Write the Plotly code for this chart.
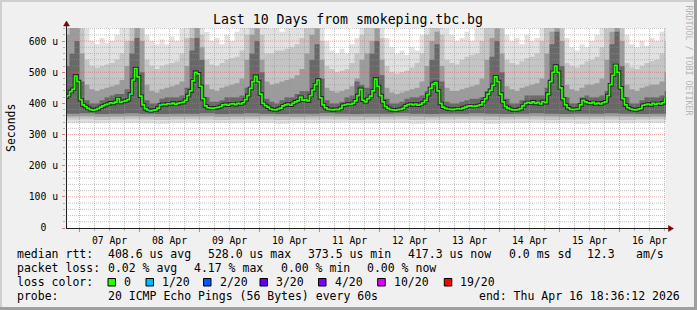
import plotly.graph_objects as go
import pandas as pd

# ---------------- data ----------------
T_START = "2026-04-06 18:36:12"
T_END = "2026-04-16 18:36:12"

# median rtt in microseconds, hourly from 2026-04-06 18:00
median_us = [
    420, 425, 438, 445, 488, 470,
    412, 395, 390, 384, 380, 378, 380, 383, 388, 392, 396, 398, 402, 400, 404, 415, 403, 406, 408, 412, 430, 475, 512, 485,
    423, 395, 383, 378, 376, 378, 379, 385, 395, 397, 396, 399, 398, 401, 397, 400, 402, 403, 410, 425, 440, 472, 500, 495,
    455, 415, 392, 386, 385, 384, 386, 387, 390, 395, 397, 394, 398, 399, 396, 400, 398, 402, 412, 425, 448, 470, 487, 470,
    430, 400, 393, 388, 382, 380, 379, 382, 385, 392, 395, 398, 394, 400, 405, 408, 420, 410, 412, 408, 425, 443, 460, 475,
    418, 395, 386, 381, 380, 379, 381, 380, 384, 394, 396, 398, 397, 400, 408, 425, 445, 410, 405, 415, 423, 440, 478, 455,
    425, 405, 390, 384, 380, 379, 378, 380, 381, 384, 392, 396, 398, 395, 398, 394, 397, 402, 410, 428, 448, 462, 467, 440,
    400, 388, 384, 382, 381, 380, 382, 383, 382, 385, 388, 391, 392, 390, 391, 393, 395, 405, 415, 430, 442, 458, 485, 470,
    430, 405, 390, 385, 381, 379, 379, 380, 383, 392, 400, 403, 401, 405, 400, 403, 398, 406, 402, 430, 470, 500, 520, 500,
    450, 415, 395, 386, 381, 380, 381, 382, 395, 410, 405, 402, 400, 403, 398, 401, 398, 402, 405, 425, 460, 490, 522, 500,
    450, 415, 395, 386, 382, 380, 379, 381, 383, 394, 396, 398, 395, 400, 397, 400, 398, 402, 418,
]

# smoke band upper edges (us), every 2 hours from 2026-04-06 18:00
smoke_top_light = [
    650, 650, 650,
    650, 640, 600, 590, 610, 595, 600, 620, 650, 650, 650, 650,
    650, 620, 600, 590, 605, 590, 615, 600, 640, 650, 650, 650,
    650, 630, 600, 610, 590, 620, 600, 630, 650, 650, 650, 650,
    650, 650, 640, 650, 630, 650, 640, 650, 650, 650, 650, 650,
    650, 600, 570, 560, 575, 560, 590, 610, 650, 650, 650, 650,
    650, 610, 580, 560, 570, 555, 580, 570, 620, 650, 650, 650,
    650, 640, 620, 600, 610, 630, 600, 640, 650, 650, 650, 650,
    650, 620, 600, 610, 590, 620, 600, 610, 650, 650, 650, 650,
    650, 610, 580, 570, 590, 580, 600, 620, 650, 650, 650, 650,
    650, 620, 590, 580, 600, 585, 610, 600, 630, 650, 650,
]
smoke_top_mid = [
    650, 650, 650,
    640, 540, 520, 515, 520, 525, 530, 540, 560, 600, 650, 650,
    640, 540, 520, 510, 520, 525, 530, 535, 560, 610, 650, 650,
    620, 540, 525, 520, 530, 540, 545, 550, 570, 620, 650, 650,
    620, 560, 560, 570, 570, 575, 580, 590, 610, 640, 650, 650,
    600, 520, 510, 500, 505, 510, 530, 560, 620, 650, 650, 650,
    610, 520, 500, 495, 500, 505, 515, 530, 560, 620, 650, 650,
    620, 540, 530, 525, 540, 550, 555, 560, 600, 650, 650, 650,
    640, 540, 530, 525, 535, 545, 550, 560, 600, 650, 650, 650,
    640, 530, 520, 515, 525, 535, 540, 550, 580, 640, 650, 650,
    640, 530, 515, 510, 520, 530, 535, 540, 560, 600, 640,
]
smoke_top_dark = [
    620, 650, 650,
    560, 460, 445, 440, 445, 450, 455, 460, 475, 520, 600, 650,
    600, 460, 440, 435, 445, 450, 455, 460, 470, 520, 610, 650,
    580, 460, 445, 440, 450, 455, 460, 465, 480, 540, 620, 640,
    540, 470, 460, 465, 470, 475, 480, 490, 510, 560, 620, 640,
    540, 450, 440, 435, 440, 445, 455, 480, 540, 560, 600, 640,
    540, 450, 435, 430, 435, 440, 445, 450, 470, 520, 600, 630,
    520, 450, 440, 440, 445, 450, 455, 460, 480, 540, 610, 640,
    560, 455, 445, 440, 450, 455, 460, 465, 480, 560, 630, 650,
    600, 460, 445, 440, 450, 460, 460, 465, 480, 540, 630, 650,
    600, 460, 445, 440, 450, 455, 460, 460, 470, 500, 560,
]
smoke_top_core = [
    520, 560, 600,
    470, 410, 400, 400, 410, 420, 425, 430, 430, 445, 560, 610,
    500, 410, 400, 400, 415, 420, 420, 420, 425, 450, 570, 610,
    540, 420, 405, 405, 410, 420, 420, 420, 425, 450, 560, 600,
    500, 415, 405, 400, 410, 420, 420, 430, 440, 440, 540, 590,
    480, 410, 400, 400, 405, 420, 425, 470, 460, 450, 560, 600,
    490, 415, 400, 400, 405, 415, 420, 420, 425, 440, 540, 590,
    470, 405, 400, 400, 405, 410, 415, 415, 420, 440, 550, 600,
    500, 415, 400, 400, 410, 425, 425, 425, 425, 450, 590, 630,
    520, 420, 400, 400, 420, 425, 420, 420, 425, 440, 590, 630,
    520, 420, 400, 400, 410, 420, 420, 420, 425, 440, 470,
]

# smoke band lower edges (us), every 6 hours from 2026-04-06 18:00
smoke_low_light = [
    336, 337, 336, 338, 337, 336, 335, 337, 338, 336, 337, 336, 338, 337,
    335, 337, 336, 337, 338, 336, 336, 337, 337, 335, 338, 336, 337, 337,
    335, 336, 337, 338, 336, 337, 335, 337, 337, 336, 338, 337, 336, 337,
]
smoke_low_mid = [
    348, 349, 347, 348, 349, 348, 347, 348, 349, 348, 347, 348, 349, 348,
    347, 348, 348, 349, 348, 347, 348, 348, 349, 347, 348, 348, 349, 348,
    347, 348, 349, 348, 347, 348, 348, 349, 348, 347, 348, 349, 348, 348,
]
smoke_low_dark = [
    358, 359, 357, 358, 359, 358, 357, 358, 358, 359, 357, 358, 358, 359,
    358, 357, 358, 359, 358, 358, 357, 358, 359, 358, 357, 358, 358, 359,
    358, 357, 358, 359, 358, 357, 358, 358, 359, 358, 357, 358, 358, 358,
]
smoke_low_core = [
    367, 368, 366, 367, 368, 367, 366, 367, 367, 368, 366, 367, 368, 367,
    366, 367, 367, 368, 367, 366, 367, 367, 368, 367, 366, 367, 367, 368,
    367, 366, 367, 368, 367, 366, 367, 367, 368, 367, 366, 367, 367, 367,
]

loss_times = ["2026-04-07 20:00", "2026-04-08 03:00", "2026-04-08 08:00"]
loss_count = ["1/20", "1/20", "1/20"]

y_tick_vals = [0, 100, 200, 300, 400, 500, 600]
y_tick_text = ["0\u00a0\u00a0", "100 u", "200 u", "300 u", "400 u", "500 u", "600 u"]

legend_rows = [
    [("median rtt:", 16), ("408.6 us avg", 107.3), ("528.0 us max", 207.3), ("373.5 us min", 307),
     ("417.3 us now", 407), ("0.0 ms sd", 507.5), ("12.3", 585.5), ("am/s", 635)],
    [("packet loss:", 16), ("0.02 % avg", 107.3), ("4.17 % max", 193.4), ("0.00 % min", 279.5),
     ("0.00 % now", 365.6)],
    [("loss color:", 16)],
    [("probe:", 16), ("20 ICMP Echo Pings (56 Bytes) every 60s", 107.3),
     ("end: Thu Apr 16 18:36:12 2026", 478.3)],
]
loss_labels = ["0", "1/20", "2/20", "3/20", "4/20", "10/20", "19/20"]
loss_colors = ["#26ff00", "#00b8ff", "#0059ff", "#5e00ff", "#7e00ff", "#dd00ff", "#ff0000"]
loss_box_x = [108, 146, 203.5, 260, 318.5, 377.7, 444.3]

# ---------------- layout constants ----------------
W, H = 697, 310
L, T, PW, PH = 66, 28, 600, 200
Y_MAX = 642
MONO = "DejaVu Sans Mono"


def ax(px):
    return (px - L) / PW


def ay(py):
    return (T + PH - py) / PH


t_hour = pd.date_range("2026-04-06 18:00", periods=len(median_us), freq="h")
t_2h = pd.date_range("2026-04-06 18:00", periods=len(smoke_top_light), freq="2h")
t_6h = pd.date_range("2026-04-06 18:00", periods=len(smoke_low_light), freq="6h")

fig = go.Figure()

bands = [
    (smoke_low_light, smoke_top_light, "#e1e1e1"),
    (smoke_low_mid, smoke_top_mid, "#c5c5c5"),
    (smoke_low_dark, smoke_top_dark, "#9c9c9c"),
    (smoke_low_core, smoke_top_core, "#686868"),
]
for lo, hi, col in bands:
    fig.add_trace(go.Scatter(x=t_6h, y=lo, mode="lines", line=dict(width=0, shape="hv"),
                             hoverinfo="skip", showlegend=False))
    fig.add_trace(go.Scatter(x=t_2h, y=hi, mode="lines", line=dict(width=0, shape="hv"),
                             fill="tonexty", fillcolor=col, hoverinfo="skip", showlegend=False))

# grid (drawn over the smoke as in rrdtool)
ts, te = pd.Timestamp(T_START), pd.Timestamp(T_END)
vt = pd.date_range("2026-04-07 00:00", "2026-04-16 18:00", freq="6h")


def vlines(times):
    xs, ys = [], []
    for t in times:
        xs += [t, t, None]
        ys += [0, Y_MAX, None]
    return xs, ys


def hlines(vals):
    xs, ys = [], []
    for v in vals:
        xs += [ts, te, None]
        ys += [v, v, None]
    return xs, ys


minor_h = [v for v in range(20, Y_MAX, 20) if v % 100]
major_h = [v for v in range(100, Y_MAX, 100)]
for (xs, ys), col in [
    (hlines(minor_h), "rgba(150,150,150,0.55)"),
    (vlines([t for t in vt if t.hour != 0]), "rgba(150,150,150,0.55)"),
    (hlines(major_h), "rgba(220,90,90,0.55)"),
    (vlines([t for t in vt if t.hour == 0]), "rgba(220,90,90,0.55)"),
]:
    fig.add_trace(go.Scatter(x=xs, y=ys, mode="lines", line=dict(color=col, width=1, dash="1px,1px"),
                             hoverinfo="skip", showlegend=False, connectgaps=False))

# median
fig.add_trace(go.Scatter(x=t_hour, y=median_us, mode="lines", line=dict(color="#1e1e1e", width=3.5, shape="hv"),
                         hoverinfo="skip", showlegend=False))
fig.add_trace(go.Scatter(x=t_hour, y=median_us, mode="lines", line=dict(color=loss_colors[0], width=1.7, shape="hv"),
                         hoverinfo="skip", showlegend=False))
for lt, lc in zip(loss_times, loss_count):
    i = t_hour.get_loc(pd.Timestamp(lt))
    fig.add_trace(go.Scatter(x=[t_hour[i], t_hour[i + 1]], y=[median_us[i], median_us[i]], mode="lines",
                             line=dict(color=loss_colors[loss_labels.index(lc)], width=1.7, shape="hv"),
                             hoverinfo="skip", showlegend=False))

shapes = []
# frame (3D border)
shapes += [
    dict(type="rect", xref="paper", yref="paper", x0=ax(0), x1=ax(W), y0=ay(0), y1=ay(2), fillcolor="#cfcfcf", line_width=0),
    dict(type="rect", xref="paper", yref="paper", x0=ax(0), x1=ax(2), y0=ay(0), y1=ay(H), fillcolor="#cfcfcf", line_width=0),
    dict(type="rect", xref="paper", yref="paper", x0=ax(0), x1=ax(W), y0=ay(H - 3), y1=ay(H), fillcolor="#9e9e9e", line_width=0),
    dict(type="rect", xref="paper", yref="paper", x0=ax(W - 3), x1=ax(W), y0=ay(0), y1=ay(H), fillcolor="#9e9e9e", line_width=0),
]
# axes with arrows
shapes += [
    dict(type="line", xref="paper", yref="paper", x0=ax(66.5), x1=ax(66.5), y0=ay(228.5), y1=ay(25), line=dict(color="#212121", width=1)),
    dict(type="line", xref="paper", yref="paper", x0=ax(66), x1=ax(670), y0=ay(228.5), y1=ay(228.5), line=dict(color="#212121", width=1)),
    dict(type="path", xref="paper", yref="paper",
         path=f"M {ax(63.5)} {ay(26)} L {ax(69.5)} {ay(26)} L {ax(66.5)} {ay(21)} Z",
         fillcolor="#800000", line=dict(color="#800000", width=0.5)),
    dict(type="path", xref="paper", yref="paper",
         path=f"M {ax(668.5)} {ay(225.5)} L {ax(668.5)} {ay(231.5)} L {ax(673.5)} {ay(228.5)} Z",
         fillcolor="#800000", line=dict(color="#800000", width=0.5)),
]
# loss color boxes
for bx, c in zip(loss_box_x, loss_colors):
    shapes.append(dict(type="rect", xref="paper", yref="paper", x0=ax(bx), x1=ax(bx + 7.5),
                       y0=ay(286), y1=ay(278.5), fillcolor=c, line=dict(color="#000000", width=1)))

ann = []
ann.append(dict(text="Last 10 Days from smokeping.tbc.bg", x=ax(348), y=ay(20), xref="paper", yref="paper",
                xanchor="center", yanchor="middle", showarrow=False, font=dict(family=MONO, size=13.2, color="#000")))
ann.append(dict(text="Seconds", x=ax(11), y=ay(128), xref="paper", yref="paper", textangle=-90,
                xanchor="center", yanchor="middle", showarrow=False, font=dict(family=MONO, size=11.5, color="#000")))
ann.append(dict(text="RRDTOOL / TOBI OETIKER", x=ax(688.5), y=ay(60), xref="paper", yref="paper", textangle=90,
                xanchor="center", yanchor="middle", showarrow=False, font=dict(family=MONO, size=8.3, color="#b5b5b5")))
row_y = [254, 268, 282.3, 296]
for ry, row in zip(row_y, legend_rows):
    for txt, px in row:
        ann.append(dict(text=txt.replace(" ", "\u00a0"), x=ax(px), y=ay(ry), xref="paper", yref="paper",
                        xanchor="left", yanchor="middle", showarrow=False, borderpad=0,
                        font=dict(family=MONO, size=11.5, color="#000")))
for bx, lbl in zip(loss_box_x, loss_labels):
    ann.append(dict(text=lbl, x=ax(bx + 15), y=ay(282.3), xref="paper", yref="paper",
                    xanchor="left", yanchor="middle", showarrow=False, borderpad=0,
                    font=dict(family=MONO, size=11.5, color="#000")))

fig.update_layout(
    width=W, height=H,
    margin=dict(l=L, r=W - L - PW, t=T, b=H - T - PH, pad=0),
    paper_bgcolor="#f0f0f0", plot_bgcolor="#ffffff",
    showlegend=False,
    shapes=shapes, annotations=ann,
    xaxis=dict(type="date", range=[T_START, T_END], tickformat="%d %b", ticklabelmode="period",
               dtick=86400000, tick0="2026-04-07 00:00", ticks="outside", ticklen=3, tickcolor="#d08080",
               showgrid=False, zeroline=False, showline=False, fixedrange=True,
               tickfont=dict(family=MONO, size=9.75, color="#000"),
               minor=dict(dtick=6 * 3600000, ticks="outside", ticklen=2, tickcolor="#b0b0b0", showgrid=False)),
    yaxis=dict(range=[0, Y_MAX], tickvals=y_tick_vals, ticktext=y_tick_text, ticks="outside", ticklen=3,
               tickcolor="#d08080", showgrid=False, zeroline=False, showline=False, fixedrange=True,
               tickfont=dict(family=MONO, size=9.75, color="#000"), ticklabelstandoff=2,
               minor=dict(dtick=20, ticks="outside", ticklen=2, tickcolor="#b0b0b0", showgrid=False)),
)

fig.write_html("out.html")
